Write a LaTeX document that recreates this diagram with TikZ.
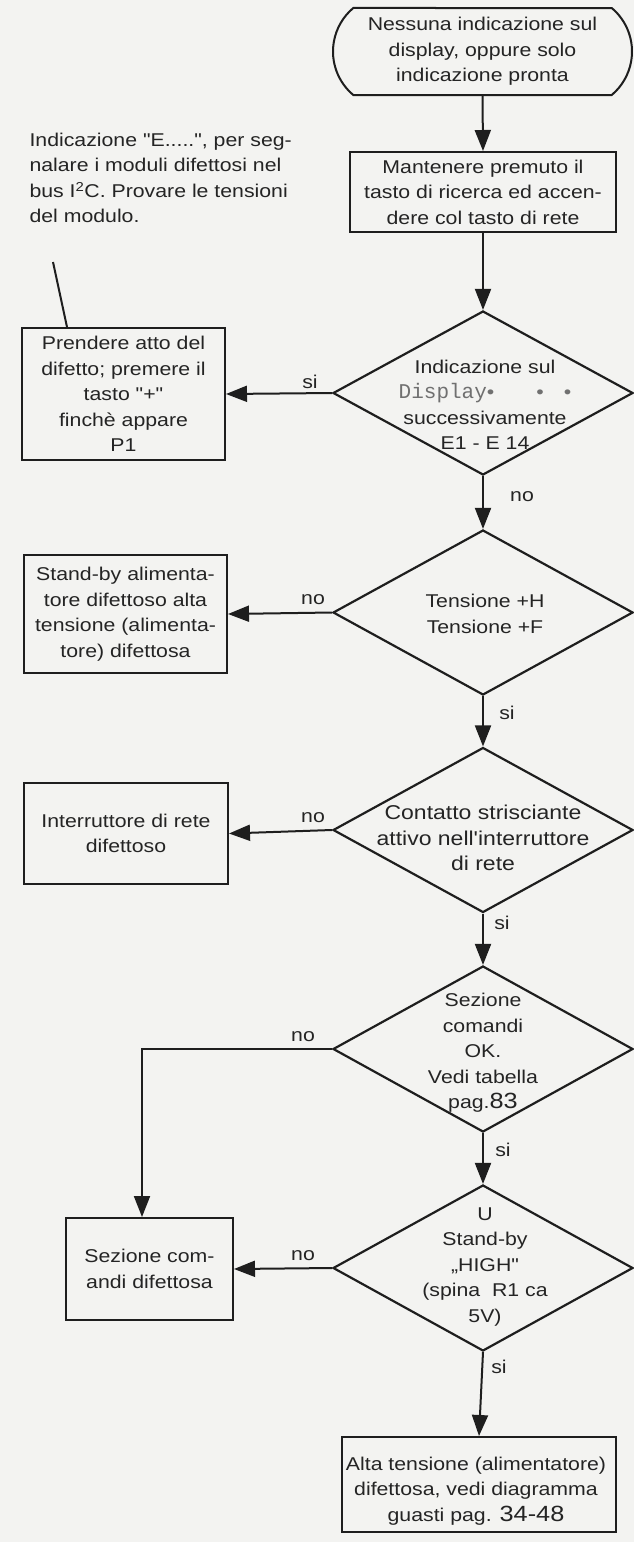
\documentclass[tikz,border=0pt]{standalone}
\usepackage{fontspec}
\setmainfont{Liberation Sans}[FakeStretch=1.15, Ligatures=TeXOff]
\newfontfamily\dispfont{Liberation Mono}
\usetikzlibrary{shapes.geometric,shapes.misc,arrows.meta}
\definecolor{ink}{HTML}{1E1E1E}
\definecolor{txt}{HTML}{242424}
\definecolor{disp}{HTML}{707070}
\definecolor{paper}{HTML}{F3F3F1}
\begin{document}
\begin{tikzpicture}[x=1pt,y=-1pt,
  txtfont/.style={font=\fontsize{18.5}{25.5}\selectfont, text=txt, align=center},
  boxnode/.style={draw=ink, line width=2pt, inner sep=0pt, txtfont},
  dia/.style={draw=ink, line width=2.2pt, shape=diamond, inner sep=0pt, minimum width=300pt},
  lbl/.style={font=\fontsize{18.5}{22}\selectfont, text=txt, inner sep=0pt},
  conn/.style={draw=ink, line width=2pt, -{Triangle[length=21pt,width=16pt]}},
  plain/.style={draw=ink, line width=2pt}]
\fill[paper] (0,0) rectangle (634,1542);
\useasboundingbox (0,0) rectangle (634,1542);

% start terminal
\node[draw=ink, line width=2pt, rounded rectangle, rounded rectangle arc length=100,
      minimum width=299pt, minimum height=87pt, inner sep=0pt, txtfont] (start) at (482.5,51.5)
  {Nessuna indicazione sul\\display, oppure solo\\indicazione pronta};

\node[boxnode, minimum width=266pt, minimum height=80pt] (mant) at (483,192)
  {Mantenere premuto il\\tasto di ricerca ed accen-\\dere col tasto di rete};

% diamonds
\node[dia, minimum height=164pt] (d1) at (483,393) {};
\node[txtfont] (d1t) at (485,405)
  {Indicazione sul\\{\dispfont\fontsize{21}{25}\selectfont\color{disp}Display}{\color{disp}\textbullet\hspace{42pt}\textbullet\hspace{20pt}\textbullet}\\successivamente\\E1 - E 14};

\node[dia, minimum height=165pt] (d2) at (483,612.5) {};
\node[txtfont] (d2t) at (485,614) {Tensione +H\\Tensione +F};

\node[dia, minimum height=165pt] (d3) at (483,830) {};
\node[txtfont, font=\fontsize{20}{25.5}\selectfont] (d3t) at (483,838) {Contatto strisciante\\attivo nell'interruttore\\di rete};

\node[dia, minimum height=166pt] (d4) at (483,1049) {};
\node[txtfont] (d4t) at (483,1053) {Sezione\\comandi\\OK.\\Vedi tabella\\pag.{\fontsize{22}{25}\selectfont 83}};

\node[dia, minimum height=166pt] (d5) at (483,1268) {};
\node[txtfont] (d5t) at (485,1267) {U\\Stand-by\\„HIGH"\\(spina\ \ R1 ca\\5V)};

% left boxes
\node[boxnode, minimum width=203pt, minimum height=132pt] (b1) at (123.5,394)
  {Prendere atto del\\difetto; premere il\\tasto "+"\\finchè appare\\P1};
\node[boxnode, minimum width=203pt, minimum height=118pt] (b2) at (125.5,614)
  {Stand-by alimenta-\\tore difettoso alta\\tensione (alimenta-\\tore) difettosa};
\node[boxnode, minimum width=204pt, minimum height=101pt] (b3) at (126,833.5)
  {Interruttore di rete\\difettoso};
\node[boxnode, minimum width=167pt, minimum height=102pt] (b4) at (149.5,1269)
  {Sezione com-\\andi difettosa};

% final box
\node[boxnode, minimum width=274pt, minimum height=95pt] (fin) at (479,1484.5) {};
\node[txtfont] (fint) at (476,1491)
  {Alta tensione (alimentatore)\\difettosa, vedi diagramma\\guasti pag. {\fontsize{22}{25}\selectfont 34-48}};

% annotation
\node[txtfont, align=left, anchor=west] (note) at (26,178)
  {Indicazione "E.....", per seg-\\nalare i moduli difettosi nel\\bus I\textsuperscript{2}C. Provare le tensioni\\del modulo.};
\coordinate (nt) at (53,262);
\draw[plain] (nt) -- ([xshift=46pt]b1.north west);

% vertical flow
\draw[conn] (start.south) -- (mant.north);
\draw[conn] (mant.south) -- (d1.north);
\draw[conn] (d1.south) -- (d2.north);
\draw[conn] (d2.south) -- (d3.north);
\draw[conn] (d3.south) -- (d4.north);
\draw[conn] (d4.south) -- (d5.north);
\draw[conn] (d5.south) -- (fin.north);

% side exits
\draw[conn] (d1.west) -- (b1.east);
\draw[conn] (d2.west) -- (b2.east);
\draw[conn] (d3.west) -- (b3.east);
\draw[conn] (d4.west) -| ([xshift=-7.5pt]b4.north);
\draw[conn] (d5.west) -- (b4.east);

% labels
\node[lbl] (l1) at (310,382) {si};
\node[lbl] (l2) at (522,497) {no};
\node[lbl] (l3) at (313,600) {no};
\node[lbl] (l4) at (507,713) {si};
\node[lbl] (l5) at (313,818) {no};
\node[lbl] (l6) at (502,923) {si};
\node[lbl] (l7) at (303,1037) {no};
\node[lbl] (l8) at (503,1150) {si};
\node[lbl] (l9) at (303,1256) {no};
\node[lbl] (l10) at (499,1367) {si};
\end{tikzpicture}
\end{document}
